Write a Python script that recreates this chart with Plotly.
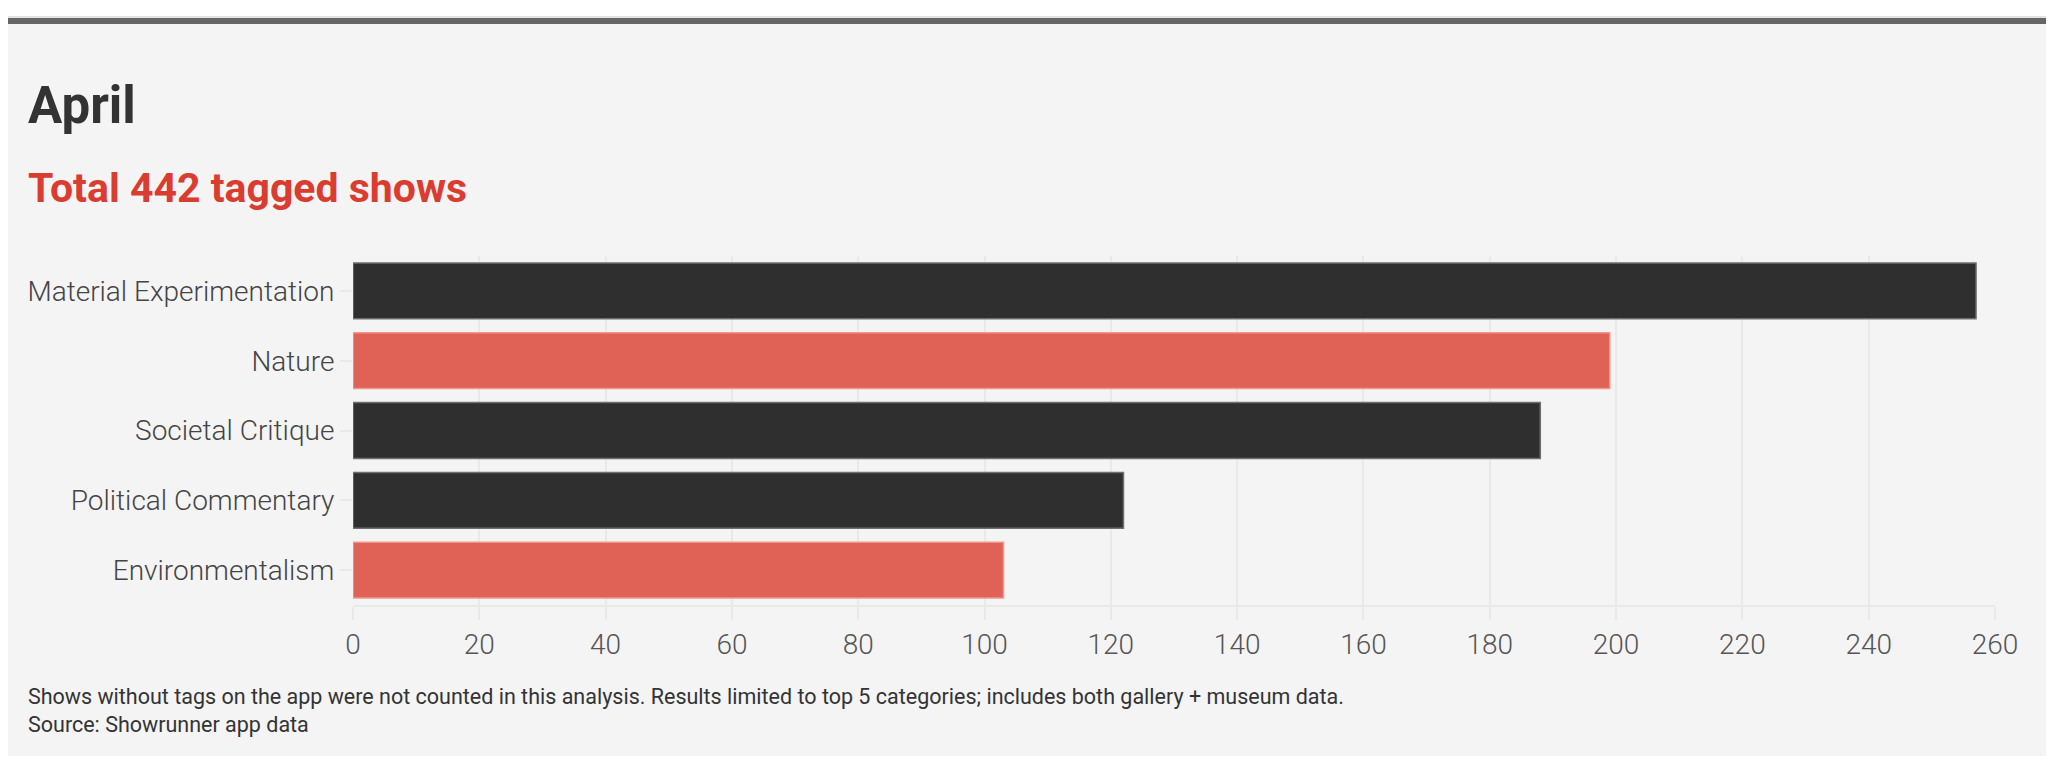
import plotly.graph_objects as go

# data
categories = ["Material Experimentation", "Nature", "Societal Critique",
              "Political Commentary", "Environmentalism"]
shows = [257, 199, 188, 122, 103]
highlighted = ["Nature", "Environmentalism"]
x_ticks = list(range(0, 261, 20))

title = "April"
subtitle = "Total 442 tagged shows"
note = ("Shows without tags on the app were not counted in this analysis. "
        "Results limited to top 5 categories; includes both gallery + museum data.")
source = "Source: Showrunner app data"

# the page body adds an 8px margin, so work in page pixels minus 8
OFF = 8
W, H = 2056 - OFF * 2, 764 - OFF * 2
# plot area in page pixels
L, R, T, B = 353 - OFF, 1995 - OFF, 256 - OFF, 605 - OFF

DARK = "#2f2f2f"
RED = "#e06257"
GRID = "#e9e9e9"


def px(x):
    # page pixel -> paper coordinate
    return (x - OFF - L) / (R - L)


def py(y):
    return (B - (y - OFF)) / (B - T)


colors = [RED if c in highlighted else DARK for c in categories]
edges = ["#f0958c" if c in highlighted else "#6e6e6e" for c in categories]

fig = go.Figure(go.Bar(
    x=shows,
    y=categories,
    orientation="h",
    marker=dict(color=colors, line=dict(color=edges, width=1.5)),
    hovertemplate="%{y}: %{x}<extra></extra>",
))

fig.update_layout(
    width=W,
    height=H,
    margin=dict(l=L, r=W - R, t=T, b=H - B),
    paper_bgcolor="white",
    plot_bgcolor="#f4f4f4",
    bargap=0.2,
    showlegend=False,
    font=dict(family="Roboto", color="#555555"),
    xaxis=dict(
        range=[0, 260],
        tickvals=x_ticks,
        showgrid=True,
        gridcolor=GRID,
        gridwidth=2,
        zeroline=False,
        showline=True,
        linecolor=GRID,
        linewidth=2,
        ticks="outside",
        ticklen=13,
        tickwidth=2,
        tickcolor=GRID,
        tickfont=dict(size=28, family="Roboto", weight=300, color="#555555"),
    ),
    yaxis=dict(
        autorange="reversed",
        showgrid=False,
        zeroline=False,
        showline=False,
        ticks="outside",
        ticklen=12,
        tickwidth=2,
        tickcolor=GRID,
        tickfont=dict(size=28, family="Roboto", weight=300, color="#444444"),
    ),
    shapes=[
        # grey card behind everything
        dict(type="rect", xref="paper", yref="paper", layer="below",
             x0=px(6), x1=px(2046), y0=py(756), y1=py(16),
             fillcolor="#f4f4f4", line=dict(width=0)),
        dict(type="rect", xref="paper", yref="paper", layer="below",
             x0=px(6), x1=px(2046), y0=py(18), y1=py(16),
             fillcolor="#e2e2e2", line=dict(width=0)),
        # dark rule on top
        dict(type="rect", xref="paper", yref="paper", layer="below",
             x0=px(6), x1=px(2046), y0=py(24), y1=py(18),
             fillcolor="#666666", line=dict(width=0)),
    ],
    annotations=[
        dict(text="<b>" + title + "</b>", xref="paper", yref="paper",
             x=px(26), y=py(105), xanchor="left", yanchor="middle",
             showarrow=False, font=dict(size=51, color="#333333")),
        dict(text="<b>" + subtitle + "</b>", xref="paper", yref="paper",
             x=px(26), y=py(188), xanchor="left", yanchor="middle",
             showarrow=False, font=dict(size=41, color="#db3c30")),
        dict(text=note + "<br>" + source, xref="paper", yref="paper",
             x=px(26), y=py(682), xanchor="left", yanchor="top", align="left",
             showarrow=False, font=dict(size=21.5, color="#333333")),
    ],
)

fig.write_html("out.html")
